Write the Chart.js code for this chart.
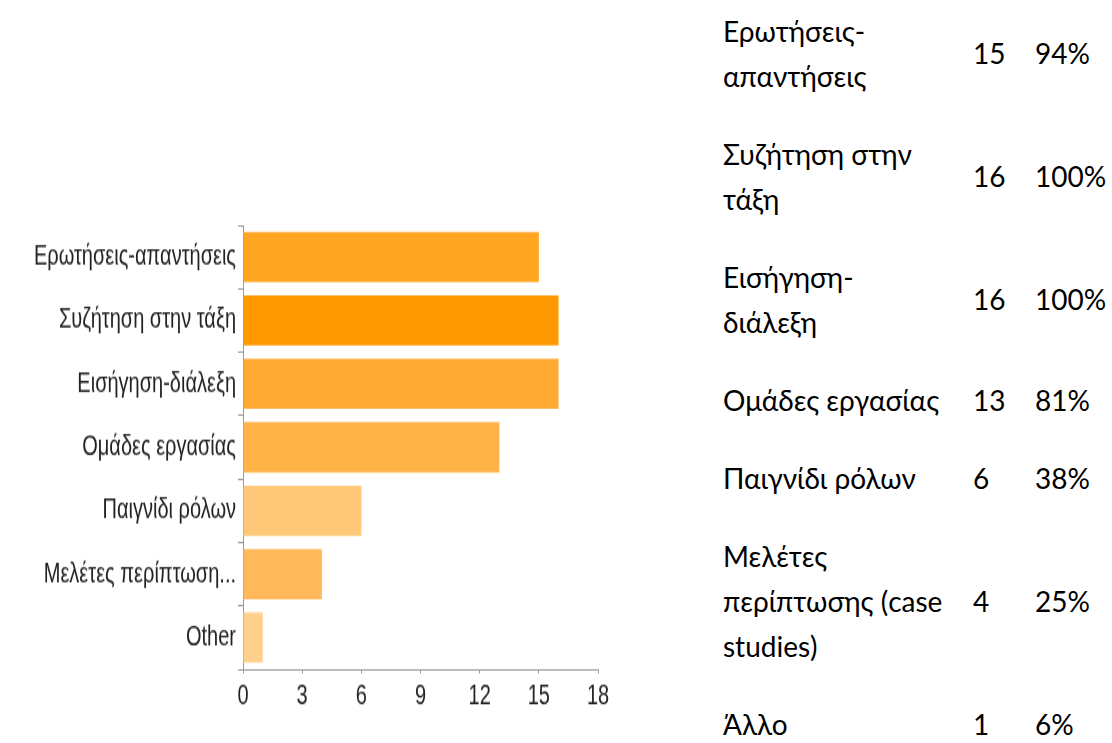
<!DOCTYPE html>
<html>
<head>
<meta charset="utf-8">
<script src="https://cdn.jsdelivr.net/npm/chart.js@4.4.0/dist/chart.umd.min.js"></script>
<style>
  html, body { margin: 0; padding: 0; background: #fff; }
  body { width: 1112px; height: 743px; position: relative; overflow: hidden; }
  #chartBox {
    position: absolute; left: 0; top: 0; width: 620px; height: 531px;
    transform: scaleY(1.4); transform-origin: 0 0;
  }
  #tbl {
    position: absolute; left: 723px; top: -8px;
    border-collapse: collapse;
    font-family: Lato, "Noto Sans", sans-serif; font-size: 28px; color: #000;
  }
  #tbl td { padding: 16.5px 0; line-height: 45px; vertical-align: middle; white-space: pre-line; }
  #tbl td.lab { width: 250px; }
  #tbl td.cnt { width: 62px; }
</style>
</head>
<body>
<div id="chartBox"><canvas id="myChart" width="620" height="531"></canvas></div>
<table id="tbl"></table>
<script>
// chart data
var categories = ['Ερωτήσεις-απαντήσεις', 'Συζήτηση στην τάξη', 'Εισήγηση-διάλεξη', 'Ομάδες εργασίας', 'Παιγνίδι ρόλων', 'Μελέτες περίπτωση...', 'Other']
var counts = [15, 16, 16, 13, 6, 4, 1]
var barColors = ['#ffa51f', '#ff9900', '#ffaa33', '#ffb347', '#ffc878', '#ffb95a', '#ffd08a']
var xTicks = [0, 3, 6, 9, 12, 15, 18]

// table on the right
var tableLabels = ['Ερωτήσεις-\nαπαντήσεις', 'Συζήτηση στην\nτάξη', 'Εισήγηση-\nδιάλεξη', 'Ομάδες εργασίας', 'Παιγνίδι ρόλων', 'Μελέτες\nπερίπτωσης (case\nstudies)', 'Άλλο']
var percents = ['94%', '100%', '100%', '81%', '38%', '25%', '6%']

var tbl = document.getElementById('tbl')
tableLabels.forEach(function(lab, i) {
    var tr = document.createElement('tr')
    var td1 = document.createElement('td'); td1.className = 'lab'; td1.textContent = lab
    var td2 = document.createElement('td'); td2.className = 'cnt'; td2.textContent = counts[i]
    var td3 = document.createElement('td'); td3.textContent = percents[i]
    tr.appendChild(td1); tr.appendChild(td2); tr.appendChild(td3)
    tbl.appendChild(tr)
})

var axisColor = '#9a9a9a'
var labelFont = { family: '"Liberation Sans", Arial, sans-serif', size: 20 }

var ctx = document.getElementById('myChart').getContext('2d')
var myChart = new Chart(ctx, {
    type: 'bar',
    data: {
        labels: categories,
        datasets: [{
            data: counts,
            backgroundColor: barColors,
            borderWidth: 0,
            categoryPercentage: 0.79,
            barPercentage: 1
        }]
    },
    options: {
        indexAxis: 'y',
        responsive: false,
        animation: false,
        devicePixelRatio: 1,
        layout: { padding: { top: 161, right: 22, bottom: 23, left: 0 } },
        scales: {
            y: {
                grid: { drawOnChartArea: false, drawTicks: true, tickLength: 5, color: axisColor },
                border: { color: axisColor },
                ticks: { color: '#222', font: labelFont, padding: 2 },
                afterFit: function(scale) { scale.width = 243 }
            },
            x: {
                min: 0,
                max: 18,
                afterBuildTicks: function(scale) {
                    scale.ticks = xTicks.map(function(v) { return { value: v } })
                },
                grid: { drawOnChartArea: false, drawTicks: true, tickLength: 3, color: axisColor },
                border: { color: axisColor },
                ticks: { color: '#222', font: labelFont, padding: 4, maxRotation: 0 },
                afterFit: function(scale) { scale.height = 30 }
            }
        },
        plugins: {
            legend: { display: false },
            tooltip: { enabled: false }
        }
    }
})
</script>
</body>
</html>
